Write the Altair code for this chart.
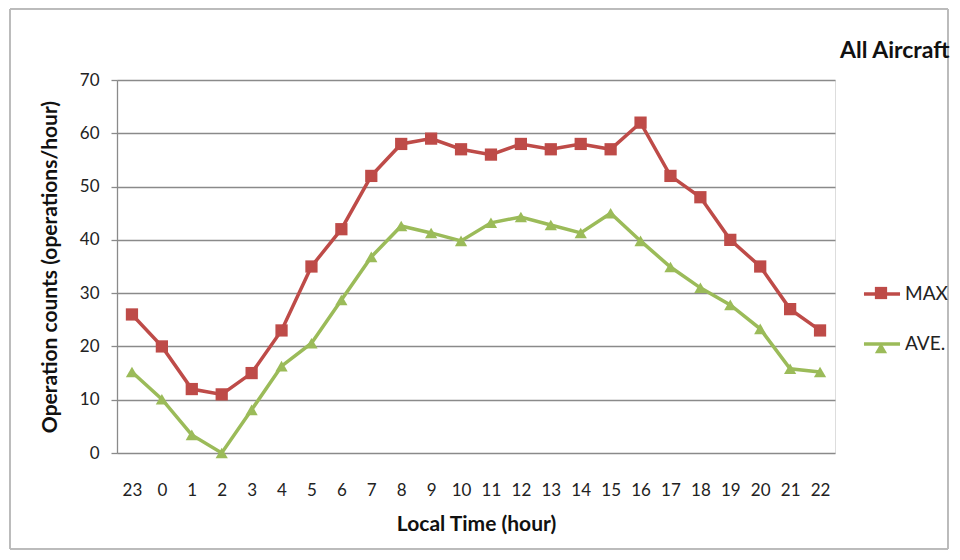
import altair as alt
import pandas as pd

hours = ["23", "0", "1", "2", "3", "4", "5", "6", "7", "8", "9", "10", "11",
         "12", "13", "14", "15", "16", "17", "18", "19", "20", "21", "22"]
max_counts = [26, 20, 12, 11, 15, 23, 35, 42, 52, 58, 59, 57, 56,
              58, 57, 58, 57, 62, 52, 48, 40, 35, 27, 23]
ave_counts = [15.2, 10.1, 3.4, 0, 8.1, 16.3, 20.6, 28.7, 36.8, 42.6, 41.3, 39.8, 43.2,
              44.3, 42.8, 41.3, 45.0, 39.8, 34.9, 31.0, 27.8, 23.3, 15.8, 15.2]
series_names = ["MAX", "AVE."]
series_colors = ["#BE4B48", "#9BBB59"]
series_shapes = ["square", "triangle-up"]

rows = []
for name, vals in zip(series_names, [max_counts, ave_counts]):
    for h, v in zip(hours, vals):
        rows.append({"hour": h, "count": v, "series": name})
df = pd.DataFrame(rows)

FONT = "Lato"

x_enc = alt.X("hour:N", sort=hours, scale=alt.Scale(type="point", padding=0.5),
              axis=alt.Axis(title="Local Time (hour)", labelAngle=0, ticks=False,
                            domain=False, grid=False, labelPadding=29,
                            labelFontSize=17, labelColor="#222", titleFontSize=21,
                            titleFontWeight="bold", titleColor="#111", titlePadding=15,
                            labelFont=FONT, titleFont=FONT))
y_enc = alt.Y("count:Q", scale=alt.Scale(domain=[0, 70], nice=False),
              axis=alt.Axis(title="Operation counts  (operations/hour)", values=list(range(0, 71, 10)),
                            grid=True, gridColor="#8A8A8A", gridWidth=1.3,
                            domainColor="#8A8A8A", domainWidth=1.3, tickColor="#8A8A8A",
                            tickWidth=1.3, tickSize=6, labelPadding=12, labelFontSize=17,
                            labelColor="#222", titleFontSize=21, titleFontWeight="bold",
                            titleColor="#111", titlePadding=19, labelFont=FONT, titleFont=FONT))

lines = alt.Chart(df).mark_line(strokeWidth=3.5).encode(
    x=x_enc, y=y_enc,
    color=alt.Color("series:N", sort=series_names,
                    scale=alt.Scale(domain=series_names, range=series_colors),
                    legend=alt.Legend(title=None, orient="none", legendX=745, legendY=194,
                                      symbolType="stroke", symbolSize=1300, symbolStrokeWidth=3.5,
                                      rowPadding=20, labelFontSize=19, labelFont=FONT,
                                      labelColor="#222", labelOffset=3, padding=0)),
    detail="series:N",
)

point_layers = []
legend_ys = [206, 261]
for name, color, shape, ly in zip(series_names, series_colors, series_shapes, legend_ys):
    layer = alt.Chart(df).transform_filter(
        alt.datum.series == name
    ).mark_point(filled=True, opacity=1, size=150, strokeWidth=1, color=color).encode(
        x=alt.X("hour:N", sort=hours), y="count:Q",
        shape=alt.Shape("series:N", scale=alt.Scale(domain=[name], range=[shape]),
                        legend=alt.Legend(title=None, orient="none", legendX=757, legendY=ly,
                                          symbolSize=150, labelExpr="''", labelFontSize=1,
                                          padding=0, symbolOpacity=1,
                                          symbolFillColor=color, symbolStrokeColor=color)),
    )
    point_layers.append(layer)

border = alt.Chart(df).mark_rect(filled=False, stroke="#BBBBBB", strokeWidth=1).encode(
    x=alt.value(-107), x2=alt.value(831), y=alt.value(-71), y2=alt.value(469)
)

chart = alt.layer(lines, *point_layers, border).resolve_scale(
    shape="independent"
).properties(
    width=718, height=373,
    title=alt.TitleParams("All Aircraft", anchor="start", frame="group", dx=723, dy=99,
                          offset=22, baseline="bottom", fontSize=23, fontWeight="bold",
                          font=FONT, color="#111"),
    autosize=alt.AutoSizeParams(type="none"),
    padding={"left": 109, "top": 72, "right": 117, "bottom": 99},
).configure_view(stroke=None).configure(background="white")

chart.save("out.html", embed_options={"renderer": "svg", "actions": False})
